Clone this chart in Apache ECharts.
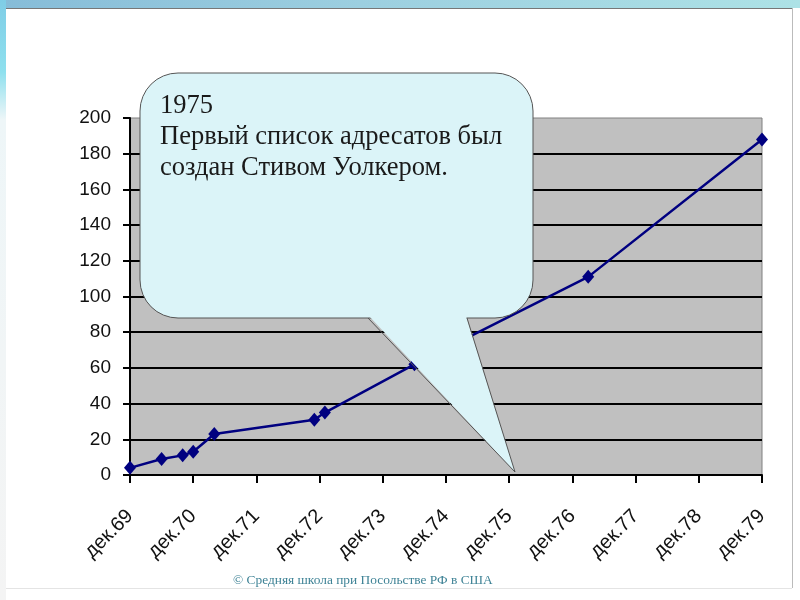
<!DOCTYPE html>
<html>
<head>
<meta charset="utf-8">
<script src="https://cdn.jsdelivr.net/npm/echarts@6/dist/echarts.min.js"></script>
<style>
  html, body { margin: 0; padding: 0; background: #fff; }
  #chart { width: 800px; height: 600px; }
</style>
</head>
<body>
<div id="chart"></div>
<script>
// месяцы от декабря 1969 и число узлов
var months = [0, 6, 10, 12, 16, 35, 37, 54, 87, 120];
var hosts = [4, 9, 11, 13, 23, 31, 35, 62, 111, 188];
var tickLabels = ['дек.69', 'дек.70', 'дек.71', 'дек.72', 'дек.73', 'дек.74',
                  'дек.75', 'дек.76', 'дек.77', 'дек.78', 'дек.79'];
var calloutLines = ['1975', 'Первый список адресатов был', 'создан Стивом Уолкером.'];
var footer = '© Средняя школа при Посольстве РФ в США';

var chart = echarts.init(document.getElementById('chart'));

var points = months.map(function (m, i) { return [m, hosts[i]]; });

var option = {
  backgroundColor: '#fff',
  animation: false,
  grid: {
    left: 130, right: 38, top: 118, bottom: 125,
    show: true,
    backgroundColor: '#c0c0c0',
    borderColor: '#808080',
    borderWidth: 1
  },
  xAxis: {
    type: 'value',
    min: 0, max: 120, interval: 12,
    axisLine: { lineStyle: { color: '#000', width: 2 } },
    axisTick: { show: true, inside: false, length: 8, lineStyle: { color: '#000', width: 2 } },
    splitLine: { show: false },
    axisLabel: {
      rotate: 45,
      margin: 38,
      fontFamily: 'Liberation Sans, Arial, sans-serif',
      fontSize: 20,
      color: '#111',
      formatter: function (v) { return tickLabels[Math.round(v / 12)]; }
    }
  },
  yAxis: {
    type: 'value',
    min: 0, max: 200, interval: 20,
    axisLine: { show: true, lineStyle: { color: '#000', width: 2 } },
    axisTick: { show: true, inside: false, length: 7, lineStyle: { color: '#000', width: 2 } },
    splitLine: { show: true, showMaxLine: false, lineStyle: { color: '#000', width: 2 } },
    axisLabel: {
      margin: 19,
      fontFamily: 'Liberation Sans, Arial, sans-serif',
      fontSize: 19,
      color: '#111'
    }
  },
  series: [{
    type: 'line',
    data: points,
    symbol: 'diamond',
    symbolSize: [12, 14],
    lineStyle: { color: '#000080', width: 2.5 },
    itemStyle: { color: '#000080' },
    z: 3
  }],
  graphic: [
    // рамка слайда
    { type: 'rect', z: 50, shape: { x: 0, y: 0, width: 800, height: 8 },
      style: { fill: new echarts.graphic.LinearGradient(0, 0, 1, 0, [
        { offset: 0, color: '#86bcd8' }, { offset: 0.45, color: '#9ccfe0' },
        { offset: 1, color: '#ade2e6' }]) } },
    { type: 'rect', z: 50, shape: { x: 0, y: 0, width: 6, height: 600 },
      style: { fill: new echarts.graphic.LinearGradient(0, 0, 0, 1, [
        { offset: 0, color: '#7fcde6' }, { offset: 0.12, color: '#8ee0ee' },
        { offset: 0.2, color: '#eef6f8' }, { offset: 1, color: '#f4f4f4' }]) } },
    { type: 'line', z: 50, shape: { x1: 6, y1: 8.5, x2: 792, y2: 8.5 },
      style: { stroke: '#777', lineWidth: 1 } },
    { type: 'line', z: 50, shape: { x1: 792.5, y1: 8, x2: 792.5, y2: 588 },
      style: { stroke: '#bbb', lineWidth: 1 } },
    { type: 'line', z: 50, shape: { x1: 6, y1: 588.5, x2: 792, y2: 588.5 },
      style: { stroke: '#e4e4e4', lineWidth: 1 } },
    // выноска
    { type: 'rect', z: 100,
      shape: { x: 140, y: 73, width: 393, height: 245, r: 38 },
      style: { fill: '#dbf4f8', stroke: '#555', lineWidth: 1 } },
    { type: 'polygon', z: 101,
      shape: { points: [[369, 316], [515, 472], [466, 316]] },
      style: { fill: '#dbf4f8' } },
    { type: 'polyline', z: 102,
      shape: { points: [[368, 318], [515, 472], [467, 318]] },
      style: { stroke: '#555', lineWidth: 1, fill: null } },
    { type: 'text', z: 103, left: 160, top: 91,
      style: { text: calloutLines.join('\n'), fill: '#1a1a1a',
               font: '26.5px "Liberation Serif", "Times New Roman", serif', lineHeight: 31 } },
    { type: 'text', z: 103, left: 233, top: 574,
      style: { text: footer, fill: '#3f8396',
               font: '13.4px "Liberation Serif", "Times New Roman", serif' } }
  ]
};

chart.setOption(option);
</script>
</body>
</html>
